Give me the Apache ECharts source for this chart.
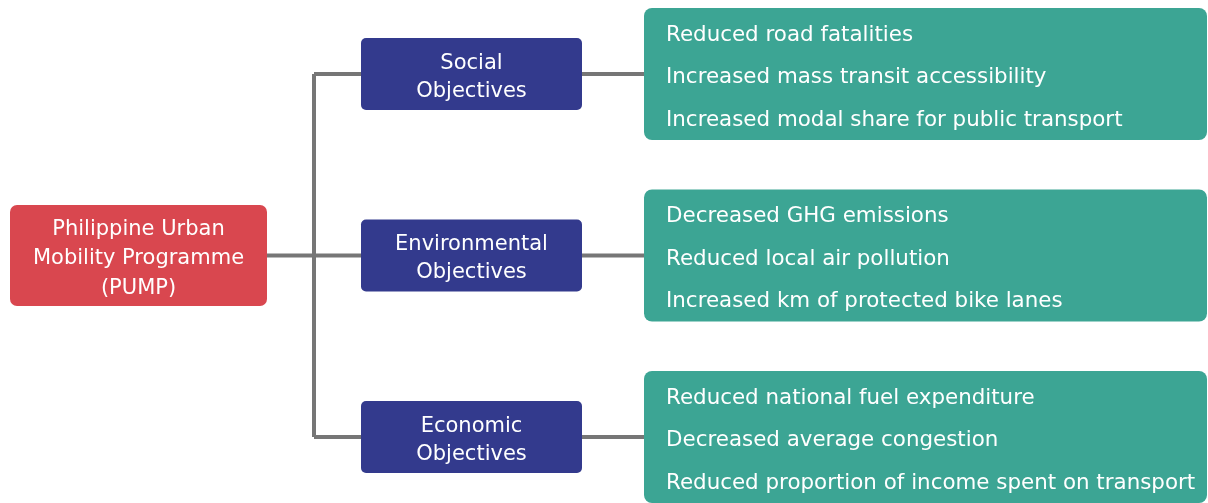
<!DOCTYPE html>
<html>
<head>
<meta charset="utf-8">
<script src="https://cdn.jsdelivr.net/npm/echarts@6/dist/echarts.min.js"></script>
<style>
  html, body { margin: 0; padding: 0; background: #fff; }
  #chart { width: 1208px; height: 503px; }
</style>
</head>
<body>
<div id="chart"></div>
<script>
// data
const rootLabel = "Philippine Urban\nMobility Programme\n(PUMP)";
const objectives = ["Social\nObjectives", "Environmental\nObjectives", "Economic\nObjectives"];
const outcomes = [
  ["Reduced road fatalities", "Increased mass transit accessibility", "Increased modal share for public transport"],
  ["Decreased GHG emissions", "Reduced local air pollution", "Increased km of protected bike lanes"],
  ["Reduced national fuel expenditure", "Decreased average congestion", "Reduced proportion of income spent on transport"],
];

const FONT = "DejaVu Sans";
const LINE = "#767676";

// layout in a 1208 x 503 coordinate space
const rowY = (i) => 74 + i * 181.5;
const rootBox = { x: 10, w: 257, h: 101 };
const midBox = { x: 361, w: 221, h: 72 };
const outBox = { x: 644, w: 563, h: 132 };
const trunkX = 314;
const textShift = 2.5; // nudge text down to match the reference baseline

const chart = echarts.init(document.getElementById("chart"));

function box(api, x, yc, w, h, fill, r) {
  const p = api.coord([x, yc - h / 2]);
  const s = api.size([w, h]);
  return { type: "rect", shape: { x: p[0], y: p[1], width: s[0], height: s[1], r: r }, style: { fill: fill } };
}

function line(api, pts) {
  return {
    type: "polyline",
    shape: { points: pts.map((q) => api.coord(q)) },
    style: { stroke: LINE, lineWidth: 4, fill: null },
  };
}

function label(api, text, x, y, align, size, lh) {
  const c = api.coord([x, y + textShift]);
  return {
    type: "text",
    style: {
      text: text, x: c[0], y: c[1], fill: "#fff",
      fontFamily: FONT, fontSize: size, lineHeight: lh,
      align: align, verticalAlign: "middle",
    },
  };
}

function renderItem(params, api) {
  const i = api.value(0);
  const children = [];
  if (i < 0) {
    // root node and trunk
    const yc = rowY(1);
    children.push(line(api, [[rootBox.x + rootBox.w, yc], [trunkX, yc]]));
    children.push(line(api, [[trunkX, rowY(0)], [trunkX, rowY(objectives.length - 1)]]));
    children.push(box(api, rootBox.x, yc, rootBox.w, rootBox.h, "#d9474f", 7));
    children.push(label(api, rootLabel, rootBox.x + rootBox.w / 2, yc + 1, "center", 21, 29.5));
    return { type: "group", children: children };
  }
  const yc = rowY(i);
  children.push(line(api, [[trunkX, yc], [midBox.x, yc]]));
  children.push(line(api, [[midBox.x + midBox.w, yc], [outBox.x, yc]]));
  children.push(box(api, midBox.x, yc, midBox.w, midBox.h, "#333a8d", 5));
  children.push(label(api, objectives[i], midBox.x + midBox.w / 2, yc + 1, "center", 21, 28));
  children.push(box(api, outBox.x, yc, outBox.w, outBox.h, "#3ca594", 8));
  children.push(label(api, outcomes[i].join("\n"), outBox.x + 22, yc + 1, "left", 21.4, 42.5));
  return { type: "group", children: children };
}

chart.setOption({
  animation: false,
  grid: { left: 0, right: 0, top: 0, bottom: 0 },
  xAxis: { type: "value", min: 0, max: 1208, show: false },
  yAxis: { type: "value", min: 0, max: 503, inverse: true, show: false },
  series: [
    {
      type: "custom",
      renderItem: renderItem,
      clip: false,
      data: [[-1]].concat(objectives.map((o, i) => [i])),
    },
  ],
});
</script>
</body>
</html>
